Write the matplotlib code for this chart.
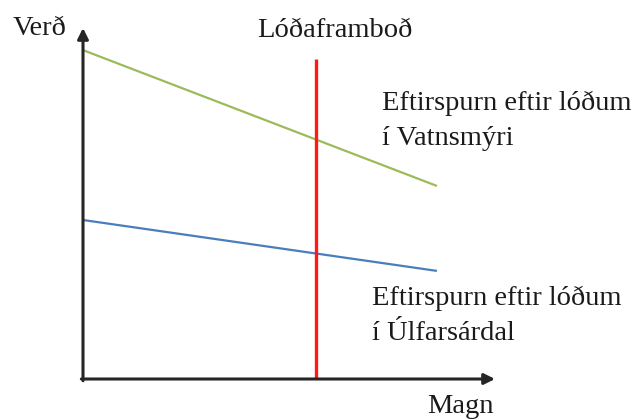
import matplotlib
matplotlib.use("Agg")
import matplotlib.pyplot as plt

# Data (abstract units on a 0..10 scale)
x_range = [0.0, 8.59]
demand_vatnsmyri = [9.37, 5.50]
demand_ulfarsardal = [4.53, 3.08]
supply_x = 5.66
supply_y = [0.0, 9.12]

label_y = "Verð"
label_x = "Magn"
label_supply = "Lóðaframboð"
label_d1 = ["Eftirspurn eftir lóðum", "í Vatnsmýri"]
label_d2 = ["Eftirspurn eftir lóðum", "í Úlfarsárdal"]

W, H = 644, 420
fig = plt.figure(figsize=(W / 100, H / 100), dpi=100)
plt.rcParams['font.family'] = ['Liberation Serif', 'DejaVu Serif']

ax = fig.add_axes([83 / W, (H - 379) / H, (495 - 83) / W, (379 - 28) / H])
ax.set_xlim(0, 10)
ax.set_ylim(0, 10)
ax.axis('off')

ax.plot(x_range, demand_vatnsmyri, color='#9bbb59', lw=1.6, solid_capstyle='butt')
ax.plot(x_range, demand_ulfarsardal, color='#4a7ebb', lw=1.6, solid_capstyle='butt')
ax.plot([supply_x, supply_x], supply_y, color='#ff1a1a', lw=2.4, solid_capstyle='butt')

arrow = dict(arrowstyle='-|>', color='#262626', lw=2.2, shrinkA=0, shrinkB=0, mutation_scale=16)
ax.annotate('', xy=(1, 0), xytext=(-0.004, 0), xycoords='axes fraction', textcoords='axes fraction', arrowprops=arrow)
ax.annotate('', xy=(0, 1), xytext=(0, -0.005), xycoords='axes fraction', textcoords='axes fraction', arrowprops=arrow)

fs = 20.5
def ftext(x, y, s, **kw):
    fig.text(x / W, 1 - y / H, s, fontsize=fs, color='#1a1a1a', va='baseline', **kw)

ftext(13, 35, label_y, ha='left')
ftext(335, 37, label_supply, ha='center')
ftext(382, 110, label_d1[0], ha='left')
ftext(382, 145, label_d1[1], ha='left')
ftext(372, 305, label_d2[0], ha='left')
ftext(372, 340, label_d2[1], ha='left')
ftext(460, 413, label_x, ha='center')

fig.savefig('out.png', dpi=100)
